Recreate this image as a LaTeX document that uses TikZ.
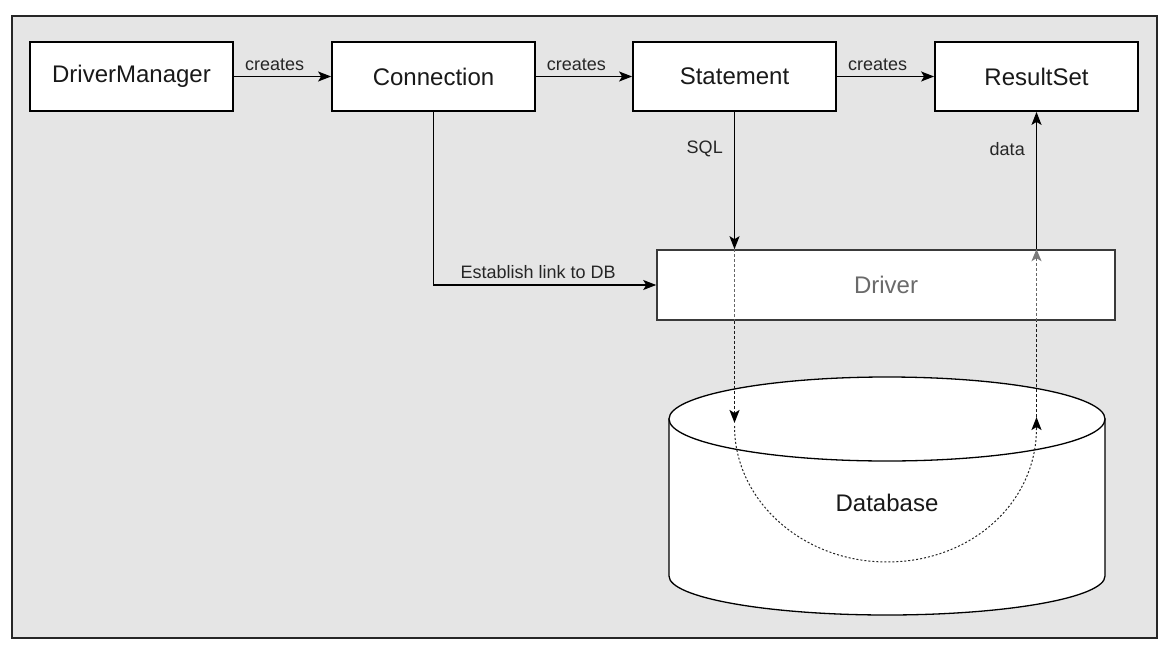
\documentclass[tikz,border=0pt]{standalone}
\usepackage{fontspec}
\setmainfont{Liberation Sans}
\usetikzlibrary{arrows.meta,calc}
\definecolor{bggray}{HTML}{E5E5E5}
\definecolor{drvtext}{HTML}{6A6A6A}
\definecolor{drvline}{HTML}{3A3A3A}
\definecolor{arrgray}{HTML}{7A7A7A}
\begin{document}
\begin{tikzpicture}[x=1pt,y=-1pt,
  box/.style={draw=black, line width=1.8pt, fill=white, minimum width=203pt, minimum height=69pt, inner sep=0pt, font=\fontsize{24}{28}\selectfont, text=black!90},
  lbl/.style={font=\fontsize{18}{21}\selectfont, inner sep=2pt, text=black!85},
  arr/.style={line width=1.5pt, -{Stealth[length=13pt,width=10pt,inset=3pt]}},
  dashline/.style={line width=1.9pt, dash pattern=on 3pt off 2pt, draw=black!90},
  thindash/.style={line width=1.1pt, dash pattern=on 3pt off 2pt, draw=black!60},
  dotline/.style={line width=1pt, dash pattern=on 2pt off 2pt, draw=black!85},
  tipblack/.style={-{Stealth[length=13pt,width=10pt,inset=3pt,black]}},
  tipgray/.style={-{Stealth[length=12pt,width=10pt,inset=3pt,arrgray]}},
]
\useasboundingbox (0,0) rectangle (1169,650);
\draw[line width=1.5pt, draw=black!85, fill=bggray] (12,16) rectangle (1157,638);

% boxes
\node[box] (dm)   at (131.5,76.5) {DriverManager};
\node[box] (conn) at (433.5,76.5) {Connection};
\node[box] (stmt) at (734.5,76.5) {Statement};
\node[box] (rs)   at (1036.5,76.5) {ResultSet};
\node[draw=drvline, line width=1.6pt, fill=white, minimum width=458pt, minimum height=70pt, inner sep=0pt,
      font=\fontsize{24}{28}\selectfont, text=drvtext] (drv) at (886,285) {Driver};

% database cylinder
\draw[line width=1.3pt, fill=white] (669,419) -- (669,576)
  .. controls (669,597.5) and (766.7,615) .. (887,615)
  .. controls (1007.3,615) and (1105,597.5) .. (1105,576) -- (1105,419) -- cycle;
\draw[line width=1.3pt, fill=white] (887,419) ellipse [x radius=218pt, y radius=42pt];
\node[font=\fontsize{24}{28}\selectfont, inner sep=0pt, text=black!90] (db) at (887,503) {Database};

% top row arrows
\draw[arr] (dm.east) -- node[lbl, above=3pt, pos=0.42] {creates} (conn.west);
\draw[arr] (conn.east) -- node[lbl, above=3pt, pos=0.42] {creates} (stmt.west);
\draw[arr] (stmt.east) -- node[lbl, above=3pt, pos=0.42] {creates} (rs.west);

% connection to driver
\draw[arr] (conn.south) |- node[lbl, above=4pt, pos=0.735] {Establish link to DB} (drv.west);

% SQL and data
\coordinate (sqlin) at (stmt.south |- drv.north);
\coordinate (dataout) at (rs.south |- drv.north);
\draw[arr] (stmt.south) -- node[lbl, left=9pt, pos=0.27] {SQL} (sqlin);
\draw[arr] (dataout) -- node[lbl, left=9pt, pos=0.73] {data} (rs.south);

% through the driver into the database
\coordinate (sqlbot) at (stmt.south |- drv.south);
\coordinate (databot) at (rs.south |- drv.south);
\coordinate (dbin) at (stmt.south |- 0,423);
\coordinate (dbout) at (rs.south |- 0,417);
\coordinate (curvea) at (stmt.south |- 0,426);
\coordinate (curveb) at (rs.south |- 0,428);
\draw[thindash] (sqlin) -- (sqlbot);
\draw[dashline, tipblack] (sqlbot) -- (dbin);
\draw[dotline] (curvea) .. controls ($(curvea)+(0,75)$) and (803,562) .. (887,562)
  .. controls (971,562) and ($(curveb)+(0,75)$) .. (curveb);
\draw[dashline, tipblack] (curveb) -- (dbout);
\draw[dashline] (dbout) -- (databot);
\draw[thindash, tipgray] (databot) -- (dataout);
\end{tikzpicture}
\end{document}
